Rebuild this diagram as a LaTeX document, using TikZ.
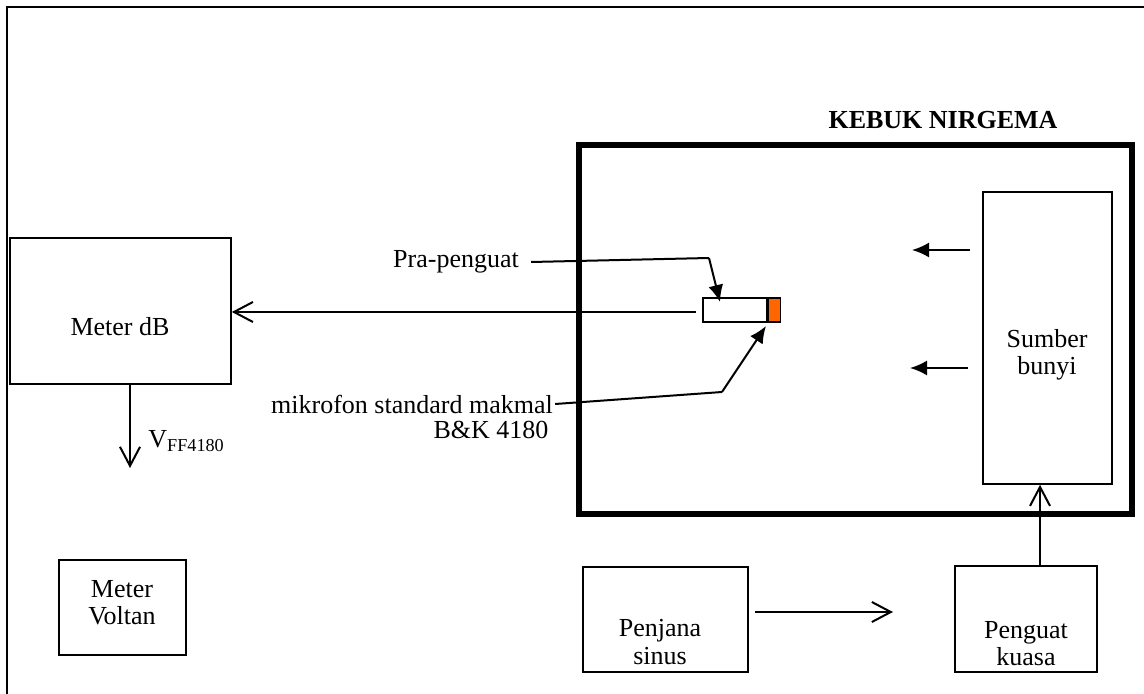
\documentclass[tikz,border=0pt]{standalone}
\usepackage{fontspec}
\setmainfont{Liberation Serif}
\usetikzlibrary{arrows.meta}
\definecolor{mico}{HTML}{FF6600}
\begin{document}
\begin{tikzpicture}[x=0.5pt,y=-0.5pt,
  font=\fontsize{13}{15.6}\selectfont,
  box/.style={draw,line width=0.8pt,inner sep=0pt},
  txt/.style={inner sep=0pt,align=center},
  openarr/.style={line width=1pt,-{Straight Barb[length=9.5pt,width=10pt,line width=1pt]}},
  fillarr/.style={line width=1pt,-{Latex[length=8.5pt,width=7.5pt]}}]
\useasboundingbox (0,0) rectangle (1144,694);
% outer frame
\draw[line width=1.1pt] (7,694) -- (7,7) -- (1144,7);
% chamber
\draw[line width=2.6pt] (579,145) rectangle (1132,514);
\node[txt,font=\fontsize{13}{15.6}\selectfont\bfseries] (kebuk) at (943,120) {KEBUK NIRGEMA};
% boxes
\node[box,minimum width=221*0.5pt,minimum height=146*0.5pt] (mdb) at (120.5,311) {};
\node[txt] (mdbt) at (120,327) {Meter dB};
\node[box,minimum width=127*0.5pt,minimum height=95*0.5pt] (mv) at (122.5,607.5) {};
\node[txt] (mvt) at (122,603) {Meter\\[-2pt]Voltan};
\node[box,minimum width=165*0.5pt,minimum height=105*0.5pt] (pj) at (665.5,619.5) {};
\node[txt] (pjt) at (660,642) {Penjana\\[-2pt]sinus};
\node[box,minimum width=142*0.5pt,minimum height=106*0.5pt] (pk) at (1026,619) {};
\node[txt] (pkt) at (1026,644) {Penguat\\[-2pt]kuasa};
\node[box,minimum width=129*0.5pt,minimum height=292*0.5pt] (sb) at (1047.5,338) {};
\node[txt] (sbt) at (1047,355) {Sumber\\[-2pt]bunyi};
% microphone
\node[box,fill=white,minimum width=64*0.5pt,minimum height=24*0.5pt] (pre) at (735,310) {};
\node[box,fill=mico,minimum width=12*0.5pt,minimum height=24*0.5pt,anchor=west] (mic) at (pre.east) {};
% labels
\node[txt] (pralbl) at (456,262) {Pra-penguat};
\node[txt] (miklbl) at (412,404) {mikrofon standard makmal};
\node[txt] (bklbl) at (491,430) {B\&K 4180};
\node[txt,anchor=west] (vff) at (148,441) {V\textsubscript{FF4180}};
% connectors
\coordinate (pratip) at (720,302);
\draw[line width=1pt] (pralbl.east) ++(12,0) coordinate (praS) -- (709,258) coordinate (praB);
\draw[fillarr] (praB) -- (pratip);
\draw[line width=1pt] (miklbl.east) ++(2,0) coordinate (mikS) -- (722,392) coordinate (mikB);
\draw[fillarr] (mikB) -- (766,326);
\draw[openarr] (696,312) coordinate (preL) -- (mdb.east |- preL);
\draw[openarr] (mdb.south -| 130,0) ++(0,0) coordinate (vtop) -- (130,468) coordinate (vend);
\draw[openarr] (755,612) coordinate (hs) -- (893,612) coordinate (he);
\draw[openarr] (pk.north -| 1040,0) coordinate (us) -- (sb.south -| 1040,0) coordinate (ue);
\draw[fillarr] (970,250) coordinate (a1s) -- (912,250) coordinate (a1e);
\draw[fillarr] (968,368) coordinate (a2s) -- (910,368) coordinate (a2e);
\end{tikzpicture}
\end{document}
